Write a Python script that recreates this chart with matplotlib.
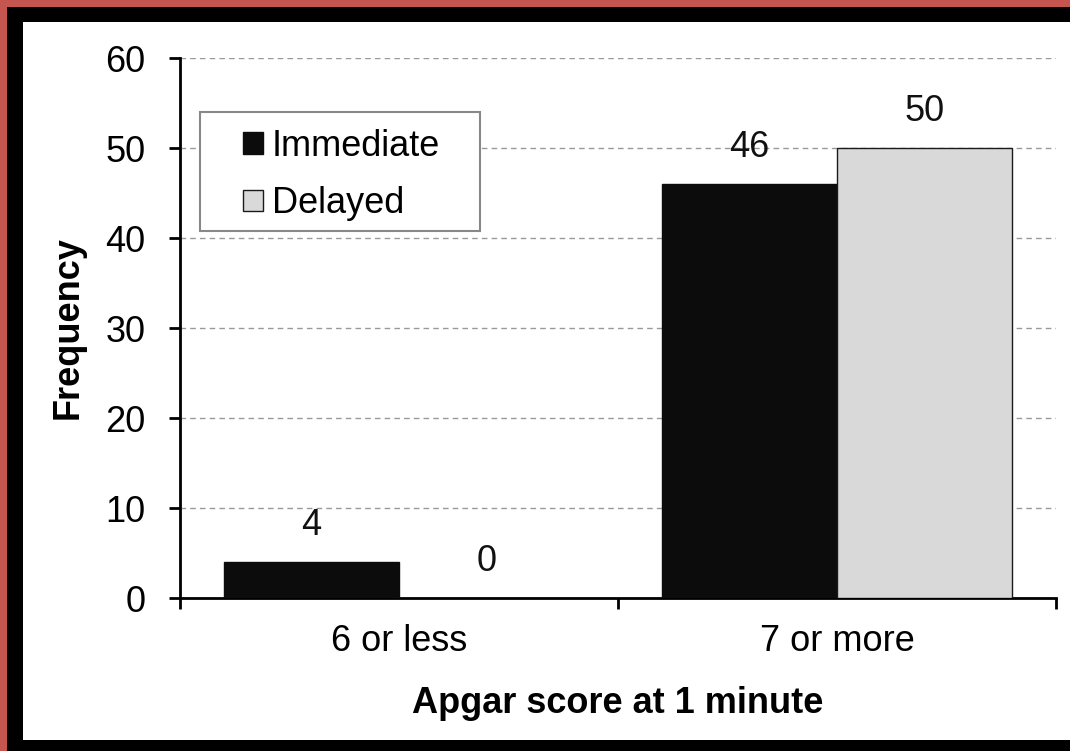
import numpy as np
import matplotlib
matplotlib.use("Agg")
import matplotlib.pyplot as plt
from matplotlib.patches import Rectangle

plt.rcParams['font.family'] = ['Liberation Sans', 'DejaVu Sans']

# data
categories = ["6 or less", "7 or more"]
immediate = [4, 46]
delayed = [0, 50]
series_names = ["Immediate", "Delayed"]

fig = plt.figure(figsize=(10.7, 7.51), dpi=100, facecolor='white')

# frame around the picture: red strip + black band on top, left, bottom
def band(x0, y0, w, h, c):
    fig.patches.append(Rectangle((x0/1070, y0/751), w/1070, h/751,
                                 transform=fig.transFigure, facecolor=c,
                                 edgecolor='none', zorder=-2))

band(0, 0, 1070, 11, 'black')          # bottom
band(0, 751 - 22, 1070, 22, 'black')   # top
band(0, 0, 23, 751, 'black')           # left
band(0, 751 - 7, 1070, 7, '#c65550')   # red top
band(0, 0, 7, 751, '#c65550')          # red left

ax = fig.add_axes([180/1070, 153/751, 876/1070, 540/751])
ax.set_facecolor('none')

x = np.arange(len(categories))
w = 0.4
b1 = ax.bar(x - w/2, immediate, w, color='#0b0c0b', edgecolor='#0b0c0b',
            linewidth=1, label=series_names[0], zorder=3)
b2 = ax.bar(x + w/2, delayed, w, color='#d9d9d9', edgecolor='#1a1a1a',
            linewidth=1, label=series_names[1], zorder=3)

for bars, vals in ((b1, immediate), (b2, delayed)):
    for r, v in zip(bars, vals):
        ax.annotate(str(v), (r.get_x() + r.get_width()/2, v),
                    xytext=(0, 14), textcoords='offset points',
                    ha='center', va='bottom', fontsize=26, color='#111111')

ax.set_xlim(-0.5, 1.5)
ax.set_ylim(0, 60)
ax.set_yticks(np.arange(0, 61, 10))
ax.yaxis.grid(True, linestyle=(0, (4, 3)), color='#999999', linewidth=1, zorder=0)

ax.set_xticks([-0.5, 0.5, 1.5])
ax.set_xticklabels([])
ax.set_xticks(x, minor=True)
ax.set_xticklabels(categories, minor=True, fontsize=26)
ax.tick_params(axis='x', which='minor', length=0, pad=19)
ax.tick_params(axis='x', which='major', length=8, width=2, direction='out')
ax.tick_params(axis='y', length=8, width=2, direction='out', pad=17, labelsize=26)

for s in ('top', 'right'):
    ax.spines[s].set_visible(False)
for s in ('left', 'bottom'):
    ax.spines[s].set_linewidth(2)

ax.set_xlabel("Apgar score at 1 minute", fontsize=26, fontweight='bold', labelpad=19)
ax.set_ylabel("Frequency", fontsize=26, fontweight='bold', labelpad=14)

# legend box drawn separately to get the wide side padding
ax.add_patch(Rectangle((20/876, (598 - 231)/540), 280/876, 119/540,
                       transform=ax.transAxes, facecolor='white',
                       edgecolor='#888888', linewidth=1.5, zorder=4))
leg = ax.legend(loc='upper left', bbox_to_anchor=(63/876, (598 - 129)/540),
                fontsize=26, frameon=False,
                handlelength=0.55, handleheight=0.55, handletextpad=0.25,
                borderpad=0, labelspacing=0.62, borderaxespad=0)
leg.set_zorder(5)

fig.savefig("out.png", dpi=100, facecolor='white')
